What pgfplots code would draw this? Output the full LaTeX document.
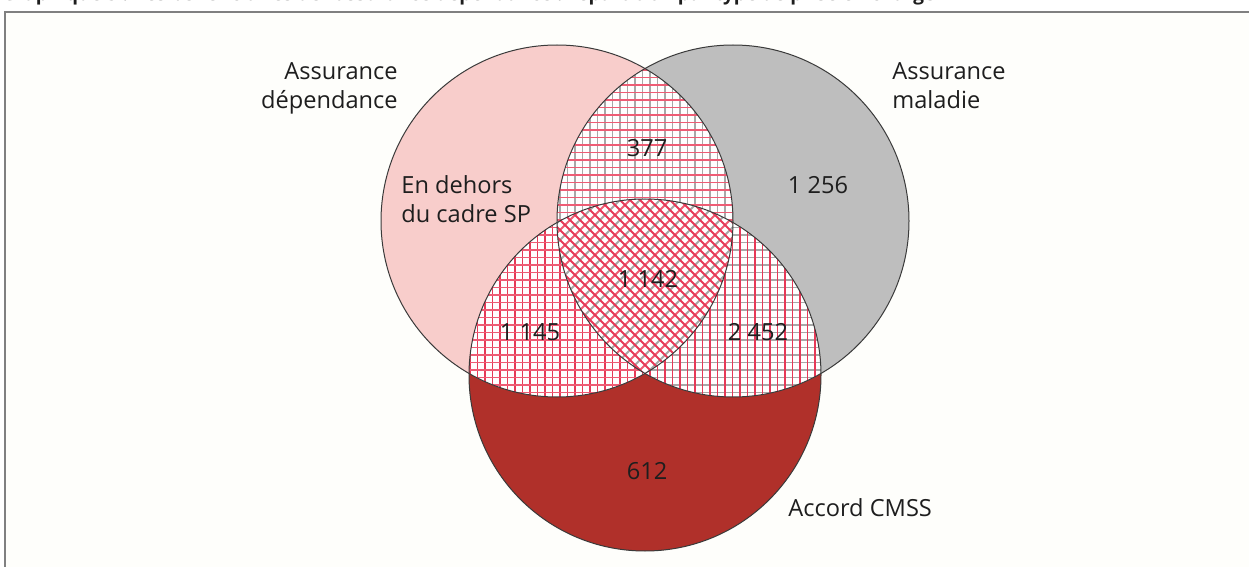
\documentclass[border=0pt]{standalone}
\usepackage{fontspec}
\setmainfont{Open Sans}
\usepackage{pgfplots}
\pgfplotsset{compat=1.18}
\definecolor{pinkfill}{HTML}{F8CDCB}
\definecolor{grayfill}{HTML}{BEBEBE}
\definecolor{redfill}{HTML}{B0302A}
\definecolor{outc}{HTML}{3A3A3A}
\definecolor{hpink}{HTML}{EE5D75}
\definecolor{hred}{HTML}{E63A58}
\definecolor{hgray}{HTML}{A8A8A8}
\definecolor{bgc}{HTML}{FEFEFB}
\definecolor{framec}{HTML}{808080}
\definecolor{txt}{HTML}{1E1E1E}
\begin{document}
\begin{tikzpicture}
\begin{axis}[
  name=ax, width=624.5pt, height=283.5pt, scale only axis,
  xmin=0, xmax=1249, ymin=0, ymax=567, y dir=reverse,
  hide axis, clip=false,
]
\coordinate (SW) at (axis cs:0,567);
\coordinate (NE) at (axis cs:1249,0);
% background and frame
\fill[bgc] (axis cs:5,12) rectangle (axis cs:1300,620);
\draw[framec, line width=0.8pt] (axis cs:5,620) -- (axis cs:5,12) -- (axis cs:1300,12);
% title (mostly cut off at top)
\node[anchor=base west, inner sep=0, text=txt, font=\bfseries\fontsize{9.5}{11}\selectfont] at (axis cs:2,0.5) {Graphique 3 : Les bénéficiaires de l'assurance dépendance : répartition par type de prise en charge};
% circles
\fill[pinkfill] (axis cs:557,221) circle[radius=88pt];
\fill[grayfill] (axis cs:733,221) circle[radius=88pt];
\fill[redfill] (axis cs:645,375) circle[radius=88pt];
% A and B
\begin{scope}
\clip (axis cs:557,221) circle[radius=88pt];
\clip (axis cs:733,221) circle[radius=88pt];
\fill[white] (axis cs:540,40) rectangle (axis cs:750,400);
\pgfplotsinvokeforeach{537.5,545,...,752.5}{\draw[hgray, line width=0.9pt] (axis cs:#1,40) -- (axis cs:#1,400);}
\pgfplotsinvokeforeach{40,47.5,...,400}{\draw[hpink, line width=0.9pt] (axis cs:530,#1) -- (axis cs:760,#1);}
\end{scope}
% A and C
\begin{scope}
\clip (axis cs:557,221) circle[radius=88pt];
\clip (axis cs:645,375) circle[radius=88pt];
\fill[white] (axis cs:460,190) rectangle (axis cs:740,405);
\pgfplotsinvokeforeach{462.5,470,...,740}{\draw[hred, line width=0.9pt] (axis cs:#1,190) -- (axis cs:#1,405);}
\pgfplotsinvokeforeach{190,197.5,...,405}{\draw[hpink, line width=0.9pt] (axis cs:460,#1) -- (axis cs:745,#1);}
\end{scope}
% B and C
\begin{scope}
\clip (axis cs:733,221) circle[radius=88pt];
\clip (axis cs:645,375) circle[radius=88pt];
\fill[white] (axis cs:550,190) rectangle (axis cs:830,405);
\pgfplotsinvokeforeach{190,197.5,...,405}{\draw[hgray, line width=0.9pt] (axis cs:550,#1) -- (axis cs:830,#1);}
\pgfplotsinvokeforeach{552.5,560,...,830}{\draw[hred, line width=0.9pt] (axis cs:#1,190) -- (axis cs:#1,405);}
\end{scope}
% A, B and C
\begin{scope}
\clip (axis cs:557,221) circle[radius=88pt];
\clip (axis cs:733,221) circle[radius=88pt];
\clip (axis cs:645,375) circle[radius=88pt];
\fill[white] (axis cs:550,190) rectangle (axis cs:745,385);
\pgfplotsinvokeforeach{740,760,...,1140}{\draw[hgray, line width=0.9pt] (axis cs:500,{#1-500}) -- (axis cs:800,{#1-800});}
\pgfplotsinvokeforeach{750,770,...,1140}{\draw[hpink, line width=0.9pt] (axis cs:500,{#1-500}) -- (axis cs:800,{#1-800});}
\pgfplotsinvokeforeach{-560,-550,...,-150}{\draw[hred, line width=1pt] (axis cs:500,{500+#1}) -- (axis cs:800,{800+#1});}
\end{scope}
% outlines
\draw[outc, line width=0.5pt] (axis cs:557,221) circle[radius=88pt];
\draw[outc, line width=0.5pt] (axis cs:733,221) circle[radius=88pt];
\draw[outc, line width=0.5pt] (axis cs:645,375) circle[radius=88pt];
% region counts
\addplot[draw=none, mark=none, nodes near coords, point meta=explicit symbolic,
  every node near coord/.style={anchor=center, inner sep=0pt, text=txt, font=\fontsize{11.8}{14}\selectfont}]
  table[col sep=semicolon, meta=label] {
x;y;label
647;148;377
818;185;1 256
648;279;1 142
530;332;1 145
758;332;2 452
647;471;612
};
% set labels
\begin{scope}[every node/.style={inner sep=0pt, text=txt, font=\fontsize{11.8}{14}\selectfont}]
\node[anchor=base east] at (axis cs:398,80) {Assurance};
\node[anchor=base east] at (axis cs:398,109) {dépendance};
\node[anchor=base west] at (axis cs:892,80) {Assurance};
\node[anchor=base west] at (axis cs:892,109) {maladie};
\node[anchor=base west] at (axis cs:401,193) {En dehors};
\node[anchor=base west] at (axis cs:401,222) {du cadre SP};
\node[anchor=base west] at (axis cs:788,516) {Accord CMSS};
\end{scope}
\end{axis}
\pgfresetboundingbox
\path (SW) rectangle (NE);
\end{tikzpicture}
\end{document}
